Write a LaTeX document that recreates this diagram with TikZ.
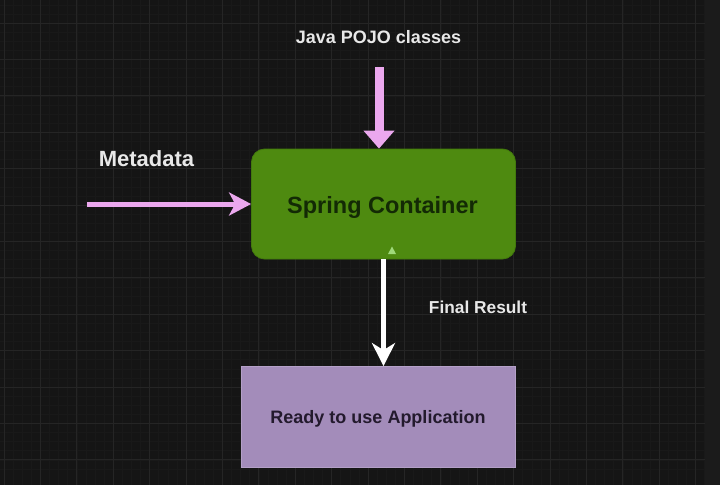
\documentclass[tikz,border=0pt]{standalone}
\usepackage{fontspec}
\setmainfont{Liberation Sans}
\usetikzlibrary{arrows.meta}
\definecolor{bg}{HTML}{151515}
\definecolor{bgstrip}{HTML}{1B1B1B}
\definecolor{gridmaj}{HTML}{252525}
\definecolor{gridmin}{HTML}{191919}
\definecolor{springfill}{HTML}{4E8A10}
\definecolor{springdraw}{HTML}{427A0C}
\definecolor{springtext}{HTML}{132A05}
\definecolor{appfill}{HTML}{A38CBA}
\definecolor{appdraw}{HTML}{B4A0C8}
\definecolor{apptext}{HTML}{231A2D}
\definecolor{pinkarrow}{HTML}{EBA8EE}
\definecolor{lightgreen}{HTML}{9FD97A}
\definecolor{labelwhite}{HTML}{E8E8E8}
\tikzset{
  box/.style={rectangle, inner sep=0pt, line width=0.8pt},
  label/.style={anchor=base, inner sep=0pt, text=labelwhite, font=\bfseries},
  pinkline/.style={draw=pinkarrow, line cap=butt},
}
\begin{document}
\begin{tikzpicture}[x=1pt, y=-1pt]
\useasboundingbox (0,0) rectangle (720,485);
\fill[bg] (0,0) rectangle (720,485);
\fill[bgstrip] (705,0) rectangle (720,485);
% minor grid
\foreach \i in {0,...,77} {
  \draw[gridmin, line width=0.5pt] ({4+9.1*\i},0) -- ({4+9.1*\i},485);
}
\foreach \j in {0,...,53} {
  \draw[gridmin, line width=0.5pt] (0,{-13.4+9.1*\j}) -- (705,{-13.4+9.1*\j});
}
% major grid
\foreach \i in {0,...,19} {
  \draw[gridmaj, line width=1pt] ({4+36.4*\i},0) -- ({4+36.4*\i},485);
}
\foreach \j in {1,...,13} {
  \draw[gridmaj, line width=1pt] (0,{-13.4+36.4*\j}) -- (705,{-13.4+36.4*\j});
}

% nodes
\node[box, fill=springfill, draw=springdraw, rounded corners=13pt,
      minimum width=264pt, minimum height=110pt] (sc) at (383.5,204) {};
\node[box, fill=appfill, draw=appdraw,
      minimum width=274pt, minimum height=101pt] (app) at (378.8,417) {};

\node[anchor=base, inner sep=0pt, text=springtext, font=\fontsize{23.5}{26}\selectfont\bfseries] (sctext) at (382.5,213) {Spring Container};
\node[anchor=base, inner sep=0pt, text=apptext, font=\fontsize{18}{21}\selectfont\bfseries] (apptext) at (378,423) {Ready to use Application};

\node[label, font=\fontsize{18}{21}\selectfont\bfseries] (pojo) at (378.5,43) {Java POJO classes};
\node[label, font=\fontsize{22}{25}\selectfont\bfseries] (meta) at (146.5,166) {Metadata};
\node[label, font=\fontsize{17.3}{20}\selectfont\bfseries] (final) at (478,313) {Final Result};

% connectors
\coordinate (pojoStart) at (379,67);
\coordinate (metaStart) at (87,204);
\draw[pinkline, line width=9pt, -{Triangle[width=30pt,length=18pt]}] (pojoStart) -- (pojoStart |- sc.north);
\draw[pinkline, line width=5pt, -{Stealth[width=23pt,length=22pt,inset=6pt]}] (metaStart) -- (metaStart -| sc.west);
\draw[draw=white, line width=5pt, -{Stealth[width=23pt,length=23pt,inset=7pt]}] (sc.south) -- (sc.south |- app.north);

% small green arrowhead
\fill[lightgreen] (392,246.5) -- (396,254) -- (388,254) -- cycle;
\end{tikzpicture}
\end{document}
